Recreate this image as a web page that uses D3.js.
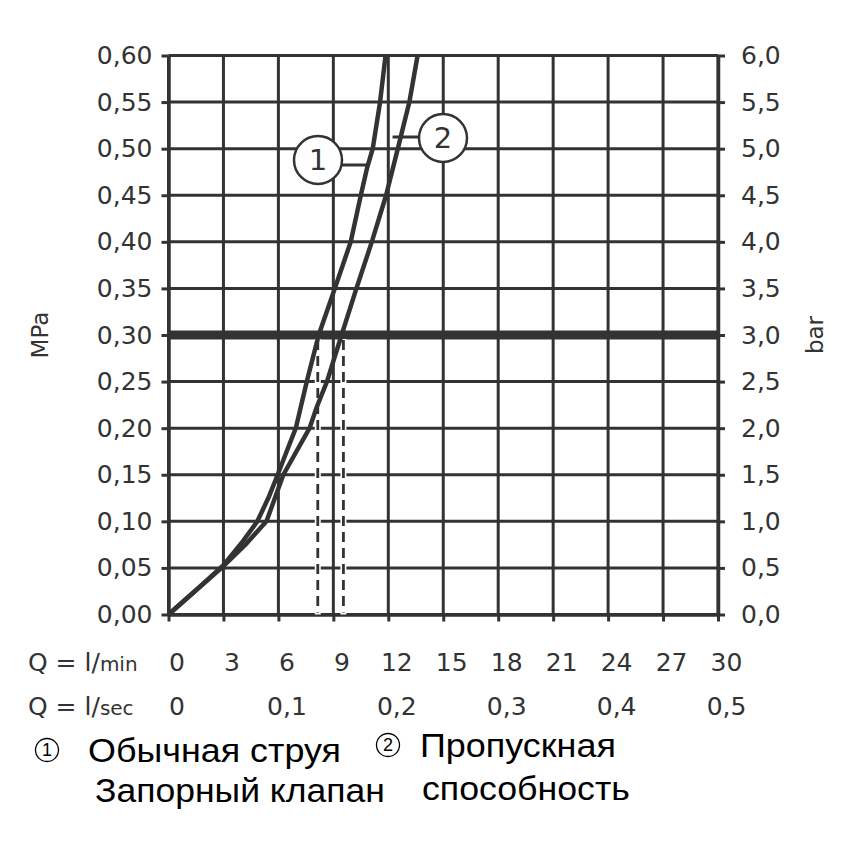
<!DOCTYPE html>
<html>
<head>
<meta charset="utf-8">
<script src="https://cdn.jsdelivr.net/npm/d3@7/dist/d3.min.js"></script>
<style>
  html, body { margin: 0; padding: 0; background: #fff; }
  svg { display: block; }
  .tick-font { font-family: "DejaVu Sans", sans-serif; font-weight: 400; fill: #333; }
  .legend-font { font-family: "Liberation Sans", Arial, sans-serif; fill: #000; }
</style>
</head>
<body>
<svg id="chart" width="850" height="850"></svg>
<script>
// ---------- DATA ----------
const flowTicksMin = [0, 3, 6, 9, 12, 15, 18, 21, 24, 27, 30];        // l/min
const flowTicksSec = [0, 0.1, 0.2, 0.3, 0.4, 0.5];                      // l/sec
const pressureTicksMPa = [0, 0.05, 0.10, 0.15, 0.20, 0.25, 0.30, 0.35, 0.40, 0.45, 0.50, 0.55, 0.60];
const pressureTicksBar = [0, 0.5, 1, 1.5, 2, 2.5, 3, 3.5, 4, 4.5, 5, 5.5, 6];

// Curve 1: Обычная струя / Запорный клапан
const curve1Flow     = [0, 1.5, 3.0, 4.0, 4.85, 5.45, 5.96, 6.45, 6.95, 7.55, 8.2, 9.08, 9.95, 10.5, 10.85, 11.15, 11.55, 11.85];
const curve1Pressure = [0, 0.026, 0.053, 0.077, 0.10, 0.125, 0.15, 0.175, 0.20, 0.25, 0.30, 0.35, 0.40, 0.45, 0.48, 0.50, 0.55, 0.60];
// Curve 2: Пропускная способность
const curve2Flow     = [0, 1.5, 2.9, 4.2, 5.35, 6.27, 7.7, 8.1, 8.65, 9.45, 10.26, 11.1, 11.88, 12.52, 13.15, 13.6];
const curve2Pressure = [0, 0.026, 0.05, 0.075, 0.10, 0.15, 0.20, 0.223, 0.25, 0.30, 0.35, 0.40, 0.45, 0.50, 0.55, 0.60];

const referencePressure = 0.30;             // thick horizontal line
const referenceFlows = [8.15, 9.55];        // dashed verticals (curve 1, curve 2)

const legendItems = [
  { num: "1", lines: ["Обычная струя", "Запорный клапан"] },
  { num: "2", lines: ["Пропускная", "способность"] }
];

// ---------- LAYOUT ----------
const svg = d3.select("#chart");
const ink = "#333";
const x = d3.scaleLinear().domain([0, 30]).range([168.5, 718]);
const xSec = d3.scaleLinear().domain([0, 0.5]).range([168.5, 718]);
const y = d3.scaleLinear().domain([0, 0.6]).range([614.5, 55.5]);
const yBar = d3.scaleLinear().domain([0, 6]).range([614.5, 55.5]);
const comma = f => d => d3.format(f)(d).replace(".", ",");

// grid
const grid = svg.append("g");
grid.selectAll(".hg").data(pressureTicksMPa).join("line")
  .attr("x1", x(0)).attr("x2", x(30))
  .attr("y1", d => y(d)).attr("y2", d => y(d))
  .attr("stroke", ink).attr("stroke-width", 3);
grid.selectAll(".vg").data(flowTicksMin).join("line")
  .attr("x1", d => x(d)).attr("x2", d => x(d))
  .attr("y1", y(0)).attr("y2", y(0.6))
  .attr("stroke", ink).attr("stroke-width", 3);

// axes
function styleAxis(g) {
  g.selectAll("path.domain").attr("stroke", ink).attr("stroke-width", 3.5);
  g.selectAll(".tick line").attr("stroke", ink).attr("stroke-width", 3);
  g.selectAll(".tick text").attr("class", "tick-font").attr("font-size", 25).attr("fill", ink);
}
const gl = svg.append("g").attr("transform", `translate(${x(0)},0)`)
  .call(d3.axisLeft(y).tickValues(pressureTicksMPa).tickFormat(comma(".2f")).tickSizeInner(7).tickSizeOuter(0).tickPadding(9));
styleAxis(gl);
const gr = svg.append("g").attr("transform", `translate(${x(30)},0)`)
  .call(d3.axisRight(yBar).tickValues(pressureTicksBar).tickFormat(comma(".1f")).tickSizeInner(7).tickSizeOuter(0).tickPadding(16));
styleAxis(gr);
const gb = svg.append("g").attr("transform", `translate(0,${y(0)})`)
  .call(d3.axisBottom(x).tickValues(flowTicksMin).tickFormat(d3.format("d")).tickSizeInner(7).tickSizeOuter(0));
styleAxis(gb);
gb.selectAll(".tick text").attr("y", 48).attr("dy", "0.35em").attr("dx", 8);
const gb2 = svg.append("g").attr("transform", `translate(0,${y(0)})`)
  .call(d3.axisBottom(xSec).tickValues(flowTicksSec).tickFormat(d => d === 0 ? "0" : comma(".1f")(d)).tickSize(0));
styleAxis(gb2);
gb2.select("path.domain").remove();
gb2.selectAll(".tick text").attr("y", 92).attr("dy", "0.35em").attr("dx", 8);

// axis row labels
function qLabel(yy, unit) {
  const t = svg.append("text").attr("class", "tick-font").attr("x", 28).attr("y", yy).attr("dy", "0.35em").attr("font-size", 25);
  t.append("tspan").text("Q = l/");
  t.append("tspan").attr("font-size", 20).text(unit);
}
qLabel(y(0) + 48, "min");
qLabel(y(0) + 92, "sec");

svg.append("text").attr("class", "tick-font").attr("font-size", 23)
  .attr("transform", `translate(40,${y(0.3)}) rotate(-90)`).attr("text-anchor", "middle").attr("dy", "0.35em").text("MPa");
svg.append("text").attr("class", "tick-font").attr("font-size", 23)
  .attr("transform", `translate(815,${y(0.3)}) rotate(-90)`).attr("text-anchor", "middle").attr("dy", "0.35em").text("bar");

// reference line
svg.append("line").attr("x1", x(0)).attr("x2", x(30))
  .attr("y1", y(referencePressure)).attr("y2", y(referencePressure))
  .attr("stroke", ink).attr("stroke-width", 9);

// dashed verticals
const dash = svg.append("g");
dash.selectAll(".dw").data(referenceFlows).join("line")
  .attr("x1", d => x(d)).attr("x2", d => x(d))
  .attr("y1", y(referencePressure) + 4).attr("y2", y(0))
  .attr("stroke", "#fff").attr("stroke-width", 6);
dash.selectAll(".dl").data(referenceFlows).join("line")
  .attr("x1", d => x(d)).attr("x2", d => x(d))
  .attr("y1", y(referencePressure) + 5).attr("y2", y(0) - 2)
  .attr("stroke", ink).attr("stroke-width", 2.8).attr("stroke-dasharray", "10,6");

// curves
const line = d3.line().x(d => x(d[0])).y(d => y(d[1])).curve(d3.curveLinear);
const c1 = d3.zip(curve1Flow, curve1Pressure);
const c2 = d3.zip(curve2Flow, curve2Pressure);
[c1, c2].forEach(c => {
  svg.append("path").datum(c).attr("d", line)
    .attr("fill", "none").attr("stroke", ink).attr("stroke-width", 4.5)
    .attr("stroke-linejoin", "round").attr("stroke-linecap", "butt");
});

// curve callouts
function callout(cx, cy, num, x1, x2, ly) {
  svg.append("line").attr("x1", x1).attr("x2", x2).attr("y1", ly).attr("y2", ly)
    .attr("stroke", ink).attr("stroke-width", 3);
  svg.append("circle").attr("cx", cx).attr("cy", cy).attr("r", 24)
    .attr("fill", "#fff").attr("stroke", ink).attr("stroke-width", 2.5);
  svg.append("text").attr("class", "tick-font").attr("x", cx).attr("y", cy)
    .attr("text-anchor", "middle").attr("dy", "0.36em").attr("font-size", 29).text(num);
}
callout(318, 160, "1", 342, x(10.85), 165);
callout(443, 138, "2", x(12.45) - 4, 420, 137);

// legend
function circNum(cx, cy, num) {
  svg.append("circle").attr("cx", cx).attr("cy", cy).attr("r", 11.5)
    .attr("fill", "none").attr("stroke", "#000").attr("stroke-width", 1.3);
  svg.append("text").attr("class", "legend-font").attr("x", cx).attr("y", cy)
    .attr("text-anchor", "middle").attr("dy", "0.36em").attr("font-size", 18).text(num);
}
function fitText(txt, x0, base, width, size) {
  const t = svg.append("text").attr("class", "legend-font").attr("font-size", size)
    .attr("x", 0).attr("y", 0).text(txt);
  const w = t.node().getComputedTextLength();
  t.attr("transform", `translate(${x0},${base}) scale(${width / w},1)`);
}
circNum(47, 750, legendItems[0].num);
fitText(legendItems[0].lines[0], 88, 762, 253, 33);
fitText(legendItems[0].lines[1], 95, 802, 290, 33);
circNum(388, 745, legendItems[1].num);
fitText(legendItems[1].lines[0], 420, 757, 196, 33);
fitText(legendItems[1].lines[1], 422, 800, 208, 33);
</script>
</body>
</html>
